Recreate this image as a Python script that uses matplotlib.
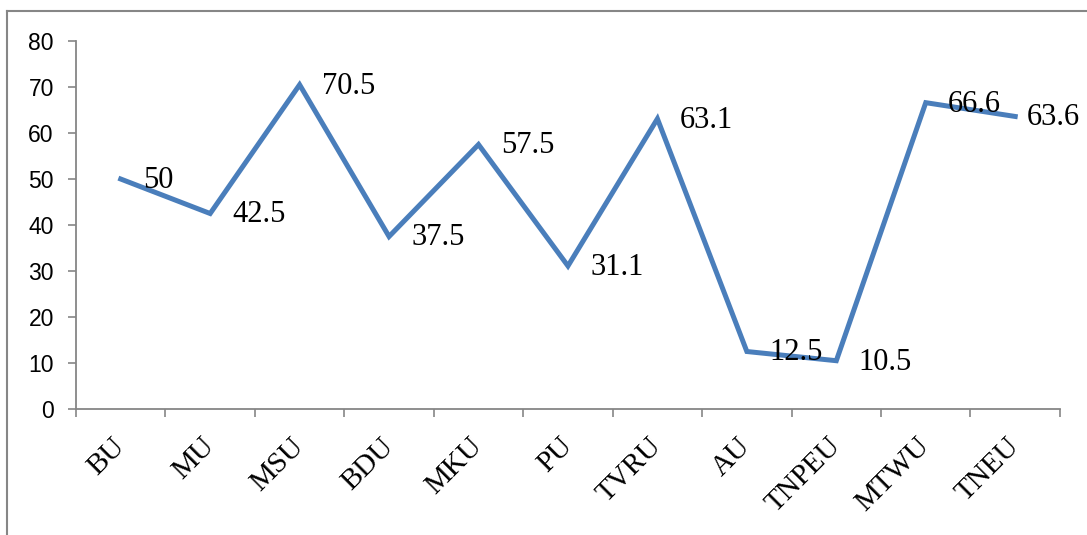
import matplotlib
matplotlib.use("Agg")
import matplotlib.pyplot as plt
from matplotlib.lines import Line2D

universities = ['BU', 'MU', 'MSU', 'BDU', 'MKU', 'PU', 'TVRU', 'AU', 'TNPEU', 'MTWU', 'TNEU']
values = [50, 42.5, 70.5, 37.5, 57.5, 31.1, 63.1, 12.5, 10.5, 66.6, 63.6]

fig = plt.figure(figsize=(10.87, 5.35), dpi=100)
ax = fig.add_axes([0.0699, 0.2355, 0.9052, 0.6878])

x = list(range(len(universities)))
ax.plot(x, values, color='#4A7EBB', linewidth=3.6, solid_joinstyle='miter')

for xi, v in zip(x, values):
    # the last label is pushed back inside the chart area, like Excel does
    dx = 8 if xi == x[-1] else 16
    ax.annotate(f'{v:g}', (xi, v), xytext=(dx, -1), textcoords='offset points',
                ha='left', va='center', fontsize=22, family='Liberation Serif')

ax.set_xlim(-0.5, len(universities) - 0.5)
ax.set_ylim(0, 80)
ax.set_yticks(range(0, 81, 10))

ax.set_xticks(x)
ax.set_xticklabels(universities, rotation=45, ha='right', rotation_mode='anchor',
                   va='center', family='Liberation Serif', fontsize=21)
ax.set_xticks([i - 0.5 for i in range(len(universities) + 1)], minor=True)
ax.tick_params(axis='x', which='major', length=0, pad=24)
ax.tick_params(axis='x', which='minor', length=6, width=1.2, color='#868686', direction='out')
ax.tick_params(axis='y', length=6, width=1.2, color='#868686', pad=10, labelsize=16.5)
for lbl in ax.get_yticklabels():
    lbl.set_family('Liberation Sans')

for side in ['top', 'right']:
    ax.spines[side].set_visible(False)
for side in ['left', 'bottom']:
    ax.spines[side].set_color('#868686')
    ax.spines[side].set_linewidth(1.3)

# chart area frame (cropped on right and bottom)
fig.add_artist(Line2D([7 / 1087, 1.0], [1 - 11 / 535, 1 - 11 / 535], color='#868686', linewidth=1.5))
fig.add_artist(Line2D([7 / 1087, 7 / 1087], [0.0, 1 - 11 / 535], color='#868686', linewidth=1.5))

fig.savefig('out.png', dpi=100)
